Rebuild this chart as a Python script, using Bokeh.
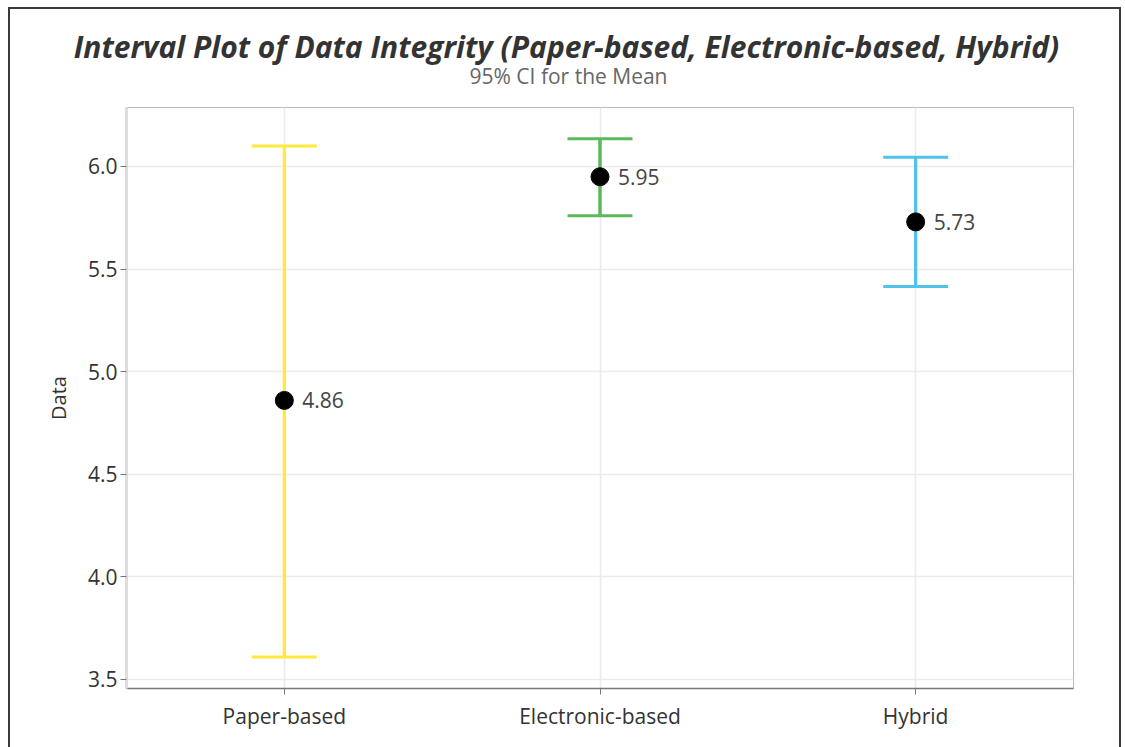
from bokeh.plotting import figure
from bokeh.layouts import column
from bokeh.models import ColumnDataSource, FixedTicker, Whisker, LabelSet, CustomJSTickFormatter, Range1d
from bokeh.core.properties import value
from bokeh.embed import file_html
from bokeh.resources import INLINE

categories = ["Paper-based", "Electronic-based", "Hybrid"]
means = [4.86, 5.95, 5.73]
lower = [3.61, 5.76, 5.415]
upper = [6.10, 6.135, 6.045]
colors = ["#FFE93F", "#5CB85C", "#4FC3E8"]
mean_labels = ["4.86", "5.95", "5.73"]
y_ticks = [3.5, 4.0, 4.5, 5.0, 5.5, 6.0]

title_text = "Interval Plot of Data Integrity (Paper-based, Electronic-based, Hybrid)"
subtitle_text = "95% CI for the Mean"

FONT = "Open Sans"
BORDER = "2px solid #3a3a3a"

# ---- header (title + subtitle), pixel space ----
head = figure(width=1113, height=100, x_range=Range1d(0, 1109), y_range=Range1d(98, 0),
              output_backend="svg", toolbar_location=None, title=None,
              x_axis_type=None, y_axis_type=None,
              min_border_left=0, min_border_right=0, min_border_top=0, min_border_bottom=0)
try:
    head.frame_align = False
except Exception:
    pass
head.outline_line_color = None
head.grid.visible = False
head.styles = {"border-left": BORDER, "border-top": BORDER, "border-right": BORDER,
               "box-sizing": "border-box"}
head.text(x=[554], y=[36], text=[title_text], text_align="center", text_baseline="middle",
          text_font=value(FONT), text_font_size="30px", text_font_style="bold italic",
          text_color="#333333")
head.text(x=[556], y=[65], text=[subtitle_text], text_align="center", text_baseline="middle",
          text_font=value(FONT), text_font_size="21px", text_color="#666666")

# ---- main plot ----
src = ColumnDataSource(dict(cat=categories, mean=means, lower=lower, upper=upper,
                            color=colors, lab=mean_labels))

p = figure(x_range=categories, y_range=(3.456, 6.2875), width=1113, height=640,
           output_backend="svg", toolbar_location=None, title=None,
           min_border_left=116, min_border_right=50, min_border_bottom=59, min_border_top=0)
p.styles = {"border-left": BORDER, "border-right": BORDER, "box-sizing": "border-box"}

p.segment(x0="cat", y0="lower", x1="cat", y1="upper", source=src, line_color="color", line_width=3)
w = Whisker(base="cat", lower="lower", upper="upper", source=src, dimension="height",
            line_color="color", line_width=3)
for hd in (w.upper_head, w.lower_head):
    hd.size = 65
    hd.line_color = "color"
    hd.line_width = 3
p.add_layout(w)

p.scatter(x="cat", y="mean", source=src, size=18, fill_color="black", line_color="black")
p.add_layout(LabelSet(x="cat", y="mean", text="lab", source=src, x_offset=18, y_offset=0,
                      text_baseline="middle", text_align="left", text_font=value(FONT),
                      text_font_size=value("21px"), text_color="#444444"))

p.yaxis.ticker = FixedTicker(ticks=y_ticks)
p.yaxis.formatter = CustomJSTickFormatter(code="return tick.toFixed(1);")
p.yaxis.axis_label = "Data"
p.yaxis.axis_label_text_font = FONT
p.yaxis.axis_label_text_font_size = "20px"
p.yaxis.axis_label_text_font_style = "normal"
p.yaxis.axis_label_text_color = "#333333"
p.yaxis.axis_label_standoff = 13

for ax in (p.xaxis, p.yaxis):
    ax.major_label_text_font = FONT
    ax.major_label_text_font_size = "21px"
    ax.major_label_text_color = "#333333"
    ax.minor_tick_line_color = None
    ax.major_tick_line_color = "#777777"
    ax.major_tick_out = 6
    ax.major_tick_in = 0
p.yaxis.axis_line_color = "#dddddd"
p.yaxis.axis_line_width = 3
p.xaxis.axis_line_color = "#777777"
p.xaxis.axis_line_width = 1.5
p.xaxis.major_label_standoff = 7
p.yaxis.major_label_standoff = 3

p.outline_line_color = "#bbbbbb"
p.outline_line_width = 1
p.grid.grid_line_color = "#ebebeb"
p.grid.grid_line_width = 1.5
p.background_fill_color = "white"
p.border_fill_color = "white"

layout = column(head, p, spacing=0, styles={"margin-left": "8px", "margin-top": "7px"})

open("out.html", "w").write(file_html(layout, INLINE))
